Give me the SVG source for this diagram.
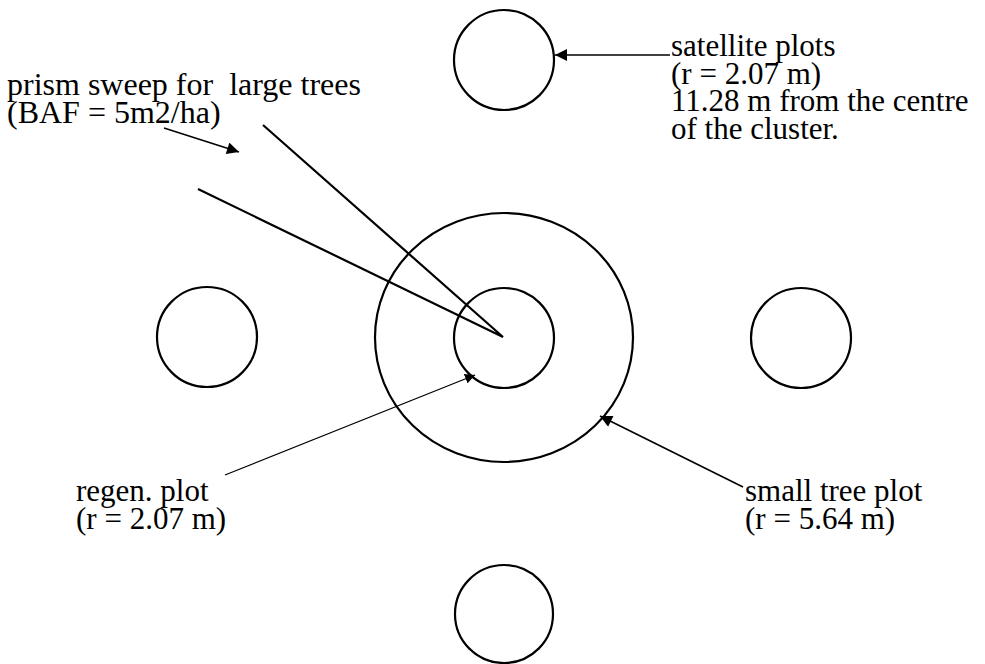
<svg xmlns="http://www.w3.org/2000/svg" width="985" height="664" viewBox="0 0 985 664">
<style>
  .plot { fill: none; stroke: #000; stroke-width: 2.2; }
  .lbl { font-family: "Liberation Serif", "Times New Roman", serif; font-size: 31px; fill: #000; }
  .big { font-size: 32px; }
  .con { stroke: #000; fill: none; }
</style>
<defs>
  <marker id="ah" viewBox="0 0 10 10" refX="10" refY="5" markerWidth="10" markerHeight="10" markerUnits="userSpaceOnUse" orient="auto">
    <path d="M0,0 L10,5 L0,10 z" fill="#000"/>
  </marker>
  <marker id="ahL" viewBox="0 0 10 10" refX="10" refY="5" markerWidth="13" markerHeight="12" markerUnits="userSpaceOnUse" orient="auto">
    <path d="M0,0 L10,5 L0,10 z" fill="#000"/>
  </marker>
</defs>
<rect width="985" height="664" fill="#fff"/>
<g id="satellite-top"><circle class="plot" cx="504" cy="60" r="50"/></g>
<g id="satellite-left"><circle class="plot" cx="207" cy="337" r="50"/></g>
<g id="satellite-right"><circle class="plot" cx="801" cy="338" r="50"/></g>
<g id="satellite-bottom"><circle class="plot" cx="504" cy="614" r="49"/></g>
<g id="small-tree-plot"><ellipse class="plot" cx="504" cy="337.5" rx="129" ry="124.5"/></g>
<g id="regen-plot"><circle class="plot" cx="504" cy="338" r="50"/></g>
<g id="connectors">
  <polyline class="con" stroke-width="2.2" points="263,125 503,337 198,189"/>
  <line class="con" stroke-width="1.6" x1="670" y1="55" x2="555" y2="55" marker-end="url(#ahL)"/>
  <line class="con" stroke-width="1.6" x1="743" y1="487" x2="600" y2="416" marker-end="url(#ahL)"/>
  <line class="con" stroke-width="1.3" x1="225" y1="475" x2="475" y2="375" marker-end="url(#ah)"/>
  <line class="con" stroke-width="1.6" x1="164" y1="128" x2="239" y2="152" marker-end="url(#ahL)"/>
</g>
<g id="label-prism">
  <text class="lbl big" x="7" y="95" xml:space="preserve">prism sweep for  large trees</text>
  <text class="lbl big" x="7" y="122.5">(BAF = 5m2/ha)</text>
</g>
<g id="label-satellite">
  <text class="lbl" x="671" y="56">satellite plots</text>
  <text class="lbl" x="671" y="83.5">(r = 2.07 m)</text>
  <text class="lbl" x="671" y="111">11.28 m from the centre</text>
  <text class="lbl" x="671" y="138.5">of the cluster.</text>
</g>
<g id="label-regen">
  <text class="lbl" x="76" y="501">regen. plot</text>
  <text class="lbl" x="76" y="528.5">(r = 2.07 m)</text>
</g>
<g id="label-small">
  <text class="lbl" x="745" y="501">small tree plot</text>
  <text class="lbl" x="745" y="528.5">(r = 5.64 m)</text>
</g>
</svg>
